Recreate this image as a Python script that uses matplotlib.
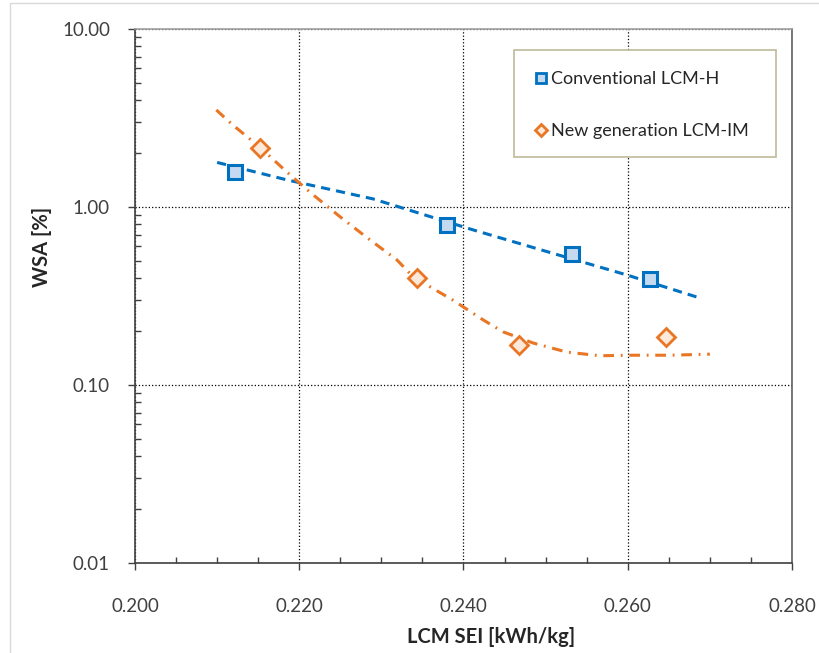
import matplotlib
matplotlib.use('Agg')
import matplotlib.pyplot as plt
from matplotlib.lines import Line2D
from matplotlib.patches import Rectangle
from matplotlib.ticker import FixedLocator, MultipleLocator, LogLocator, FormatStrFormatter, NullFormatter

plt.rcParams['font.family'] = ['Lato', 'DejaVu Sans']

# ── data ─────────────────────────────────────────────────────────────────────
conv_sei = [0.2122, 0.2380, 0.2532, 0.2627]
conv_wsa = [1.57, 0.79, 0.544, 0.394]

new_sei = [0.2152, 0.2343, 0.2468, 0.2646]
new_wsa = [2.15, 0.40, 0.168, 0.186]

# trend lines as drawn in the source chart
conv_trend_sei = [0.2100, 0.2185, 0.2290, 0.2412, 0.2502, 0.2599, 0.2688]
conv_trend_wsa = [1.78, 1.42, 1.11, 0.743, 0.561, 0.415, 0.308]

new_trend_sei = [0.2099, 0.2119, 0.2152, 0.2185, 0.2217, 0.2250, 0.2283, 0.2319,
                 0.2339, 0.2387, 0.2424, 0.2448, 0.2485, 0.2526, 0.2566, 0.2606,
                 0.2651, 0.2700]
new_trend_wsa = [3.51, 2.89, 2.17, 1.57, 1.17, 0.879, 0.670, 0.504,
                 0.404, 0.300, 0.232, 0.199, 0.172, 0.153, 0.146, 0.147,
                 0.147, 0.149]

labels = ['Conventional LCM-H', 'New generation LCM-IM']

BLUE, BLUE_FILL = '#0070C0', '#C5D9F1'
ORANGE, ORANGE_FILL = '#E97624', '#FDE9D9'
TICK_C = '#404040'

fig = plt.figure(figsize=(8.19, 6.53), dpi=100)
ax = fig.add_axes([135 / 819, 1 - 563 / 653, 657 / 819, 534 / 653])

ax.plot(conv_trend_sei, conv_trend_wsa, color=BLUE, lw=2.2,
        linestyle=(0, (3, 2)), zorder=3)
ax.plot(new_trend_sei, new_trend_wsa, color=ORANGE, lw=2.2,
        linestyle=(0, (3.5, 2.2, 0.6, 2.2)), zorder=3)

ax.plot(conv_sei, conv_wsa, 's', ms=10, mew=2.2, mec=BLUE, mfc=BLUE_FILL,
        zorder=5)
ax.plot(new_sei, new_wsa, 'D', ms=9.5, mew=2.0, mec=ORANGE, mfc=ORANGE_FILL,
        zorder=5)

ax.set_yscale('log')
ax.set_xlim(0.200, 0.280)
ax.set_ylim(0.01, 10)

ax.xaxis.set_major_locator(MultipleLocator(0.02))
ax.xaxis.set_minor_locator(MultipleLocator(0.005))
ax.xaxis.set_major_formatter(FormatStrFormatter('%.3f'))
ax.yaxis.set_major_locator(FixedLocator([0.01, 0.1, 1, 10]))
ax.yaxis.set_minor_locator(LogLocator(base=10, subs=range(2, 10)))
ax.yaxis.set_major_formatter(FormatStrFormatter('%.2f'))
ax.yaxis.set_minor_formatter(NullFormatter())

ax.tick_params(which='major', direction='out', length=5, width=1,
               color='#404040', labelsize=13.5, labelcolor=TICK_C)
ax.tick_params(axis='x', which='major', pad=20)
ax.tick_params(axis='y', which='major', pad=13)
ax.tick_params(which='minor', direction='in', length=4.5, width=1,
               color='#404040')

ax.grid(True, which='major', color='black', linestyle=':', lw=0.9)

for side in ['left', 'bottom']:
    ax.spines[side].set_color('#404040')
    ax.spines[side].set_linewidth(1.2)
ax.spines['top'].set_color('#A0A0A0')
ax.spines['top'].set_linewidth(1.2)
ax.spines['right'].set_color('#606060')
ax.spines['right'].set_linewidth(1.2)

ax.set_xlabel('LCM SEI [kWh/kg]', fontsize=14.5, fontweight='bold',
              color='#262626')
ax.set_ylabel('WSA [%]', fontsize=14.5, fontweight='bold', color='#262626')
ax.xaxis.set_label_coords(0.542, -0.12)
ax.yaxis.set_label_coords(-0.126, 0.592)

# legend
ax.add_patch(Rectangle((0.577, 0.761), 0.399, 0.200, transform=ax.transAxes,
                       facecolor='white', edgecolor='#BFBA9B', lw=1.2,
                       zorder=6))
handles = [
    Line2D([], [], linestyle='none', marker='s', ms=7, mew=2, mec=BLUE,
           mfc=BLUE_FILL),
    Line2D([], [], linestyle='none', marker='D', ms=6.5, mew=2, mec=ORANGE,
           mfc=ORANGE_FILL),
]
leg = ax.legend(handles, labels, loc='upper left',
                bbox_to_anchor=(0.580, 0.955), frameon=False, fontsize=13,
                labelspacing=2.0, handlelength=0.8, handletextpad=0.15,
                borderpad=0.5, labelcolor='#262626')
leg.set_zorder(7)

# outer chart-area border (only left/top edges visible in the source)
fig.patches.append(Rectangle((0.012, -0.1), 1.1, 1.096,
                             transform=fig.transFigure, fill=False,
                             edgecolor='#D9D9D9', lw=1))

fig.savefig('out.png', dpi=100)
